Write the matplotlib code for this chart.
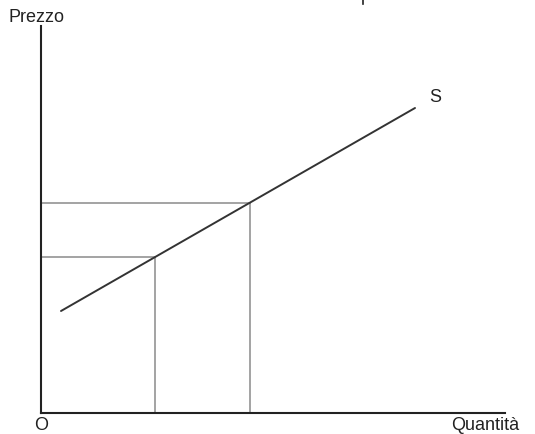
import matplotlib
matplotlib.use("Agg")
import matplotlib.pyplot as plt
from matplotlib.lines import Line2D

plt.rcParams['font.family'] = ['Liberation Sans', 'DejaVu Sans']

# Data (abstract units, origin at O)
supply_q = [20, 374]
supply_p = [102, 305]
quantities = [114, 209]
prices = [156, 210]
x_max = 464
y_max = 387

W, H = 535, 435
fig = plt.figure(figsize=(W / 100, H / 100), dpi=100)
ax = fig.add_axes([41 / W, (H - 414) / H, 464 / W, 387 / H])
ax.set_xlim(0, x_max)
ax.set_ylim(0, y_max)
for s in ['top', 'right']:
    ax.spines[s].set_visible(False)
for s in ['left', 'bottom']:
    ax.spines[s].set_linewidth(1.5)
    ax.spines[s].set_color('#222222')
ax.set_xticks([])
ax.set_yticks([])

guide = dict(color='#8a8a8a', lw=1.1)
for q, p in zip(quantities, prices):
    ax.plot([0, q], [p, p], **guide)
    ax.plot([q, q], [0, p], **guide)

ax.plot(supply_q, supply_p, color='#333333', lw=1.4, solid_capstyle='round')

fs = 13
fig.text(435 / W, 1 - 97 / H, 'S', fontsize=fs, ha='center', va='center', color='#222222')
fig.text(9 / W, 1 - 17 / H, 'Prezzo', fontsize=fs, ha='left', va='center', color='#222222')
fig.text(41 / W, 1 - 426 / H, 'O', fontsize=fs, ha='center', va='center', color='#222222')
fig.text(519 / W, 1 - 426 / H, 'Quantità', fontsize=fs, ha='right', va='center', color='#222222')

fig.add_artist(Line2D([363 / W, 363 / W], [1, 1 - 5 / H], color='#222222', lw=1.2,
                      transform=fig.transFigure))

fig.savefig('out.png', dpi=100, facecolor='white')
